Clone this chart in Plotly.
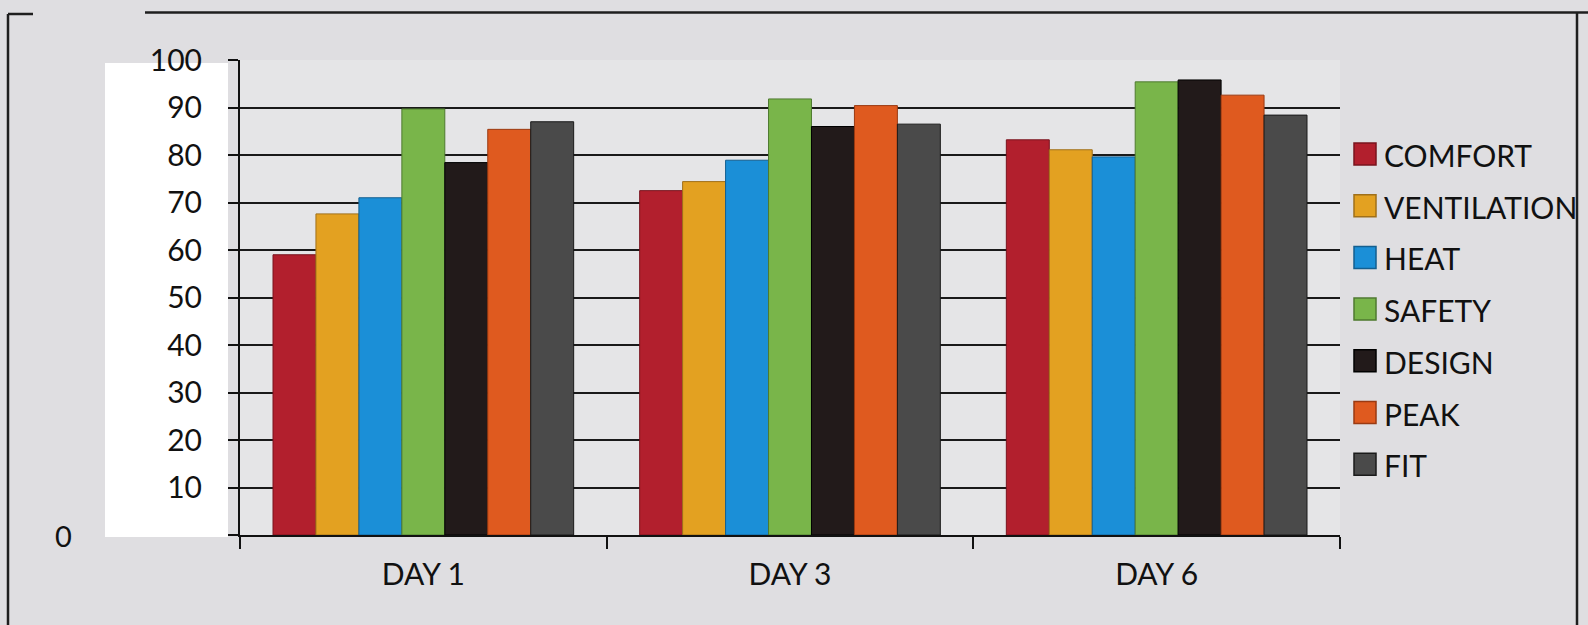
import plotly.graph_objects as go

# Survey scores per day for each rated aspect
days = ["DAY 1", "DAY 3", "DAY 6"]
series_names = ["COMFORT", "VENTILATION", "HEAT", "SAFETY", "DESIGN", "PEAK", "FIT"]
comfort = [59, 72.5, 83.2]
ventilation = [67.6, 74.4, 81.1]
heat = [71, 78.9, 79.6]
safety = [89.7, 91.8, 95.4]
design = [78.4, 86, 95.8]
peak = [85.4, 90.4, 92.6]
fit = [87, 86.5, 88.4]
y_ticks = [0, 10, 20, 30, 40, 50, 60, 70, 80, 90, 100]
y_tick_text = ["", "10", "20", "30", "40", "50", "60", "70", "80", "90", "100"]

values = [comfort, ventilation, heat, safety, design, peak, fit]
colors = ["#b21f2d", "#e3a121", "#1b8fd7", "#79b54a", "#221a1a", "#df5a1f", "#4a4a4a"]
edges = ["#7a141e", "#a0701a", "#145f90", "#4f7a30", "#000000", "#9a3a12", "#1a1a1a"]

W, H = 1588, 625
L, R, T, B = 240, 1340, 60, 535  # plot area in pixels


def px(x):
    return (x - L) / (R - L)


def py(y):
    return (B - y) / (B - T)


FONT = "Lato, 'Open Sans', sans-serif"

fig = go.Figure()
for name, vals, c, e in zip(series_names, values, colors, edges):
    fig.add_trace(go.Bar(
        name=name, x=days, y=vals,
        marker=dict(color=c, line=dict(color=e, width=1)),
        showlegend=False,
    ))

shapes = []
# white label panel behind the value axis labels
shapes.append(dict(type="rect", xref="paper", yref="paper", layer="below",
                   x0=px(105), x1=px(228), y0=py(537), y1=py(63),
                   fillcolor="#ffffff", line=dict(width=0)))
# outer frame
frame = dict(color="#1e1e1e", width=2.5)
shapes.append(dict(type="line", xref="paper", yref="paper",
                   x0=px(8), x1=px(8), y0=py(14), y1=py(H + 5), line=frame))
shapes.append(dict(type="line", xref="paper", yref="paper",
                   x0=px(8), x1=px(33), y0=py(14), y1=py(14), line=frame))
shapes.append(dict(type="line", xref="paper", yref="paper",
                   x0=px(145), x1=px(W + 5), y0=py(12.5), y1=py(12.5), line=frame))
shapes.append(dict(type="line", xref="paper", yref="paper",
                   x0=px(1577), x1=px(1577), y0=py(12.5), y1=py(H + 5), line=frame))

annotations = [dict(text="0", xref="paper", yref="paper", x=px(63), y=py(535),
                    xanchor="center", yanchor="middle", showarrow=False,
                    font=dict(family=FONT, size=29, color="#111111"))]

# legend: swatch + label per series
for i, (name, c, e) in enumerate(zip(series_names, colors, edges)):
    cy = 154 + 51.7 * i
    shapes.append(dict(type="rect", xref="paper", yref="paper",
                       x0=px(1354), x1=px(1376), y0=py(cy + 11), y1=py(cy - 11),
                       fillcolor=c, line=dict(color=e, width=1.5)))
    annotations.append(dict(text=name, xref="paper", yref="paper",
                            x=px(1382), y=py(cy + 1), xanchor="left", yanchor="middle",
                            showarrow=False,
                            font=dict(family=FONT, size=30, color="#111111")))

fig.update_layout(
    width=W, height=H,
    margin=dict(l=L, r=W - R, t=T, b=H - B, pad=0),
    paper_bgcolor="#dfdee1",
    plot_bgcolor="#e5e5e7",
    barmode="group",
    bargap=0.18,
    bargroupgap=0,
    font=dict(family=FONT, size=30, color="#111111"),
    shapes=shapes,
    annotations=annotations,
    xaxis=dict(
        type="category",
        showline=True, linecolor="#111111", linewidth=2,
        ticks="outside", tickson="boundaries", ticklen=12, tickwidth=2,
        tickcolor="#111111", showgrid=False,
        tickfont=dict(family=FONT, size=30, color="#111111"),
        ticklabelstandoff=12,
    ),
    yaxis=dict(
        range=[0, 100],
        tickvals=y_ticks, ticktext=y_tick_text,
        showline=True, linecolor="#111111", linewidth=2,
        ticks="outside", ticklen=10, tickwidth=2, tickcolor="#111111",
        showgrid=True, gridcolor="#1a1a1a", gridwidth=2,
        zeroline=False,
        tickfont=dict(family=FONT, size=30, color="#111111"),
        ticklabelstandoff=20,
    ),
)

fig.write_html("out.html")
